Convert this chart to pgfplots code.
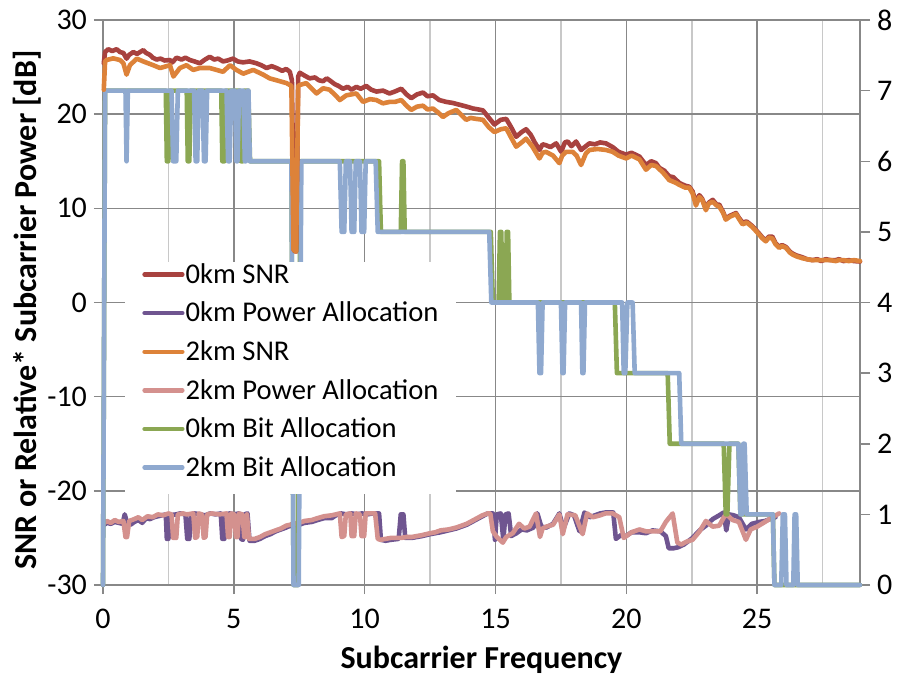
\documentclass[border=0pt]{standalone}
\usepackage{pgfplots}
\pgfplotsset{compat=1.18}
\usepackage{fontspec}
\setmainfont{Carlito}
\definecolor{cRed}{HTML}{A8423F}
\definecolor{cPurple}{HTML}{6F5590}
\definecolor{cOrange}{HTML}{DD8239}
\definecolor{cPink}{HTML}{D4918E}
\definecolor{cGreen}{HTML}{8BA753}
\definecolor{cBlue}{HTML}{8FA9CF}
\definecolor{gridDark}{HTML}{888888}
\definecolor{gridLight}{HTML}{C8C8C8}

\begin{document}
\begin{tikzpicture}
\useasboundingbox (-51.5pt,-45pt) rectangle (400.5pt,292.5pt);
\pgfplotsset{
  common/.style={
    at={(0pt,0pt)}, anchor=south west,
    width=378.5pt, height=282.5pt, scale only axis,
    xmin=0, xmax=28.93,
    /pgf/number format/assume math mode=true,
    tick label style={font=\fontsize{15}{18}\selectfont},
  },
  ln/.style={line width=2.3pt, line join=round, line cap=round},
}
% ---------- axis 1: left scale, grid, power allocation ----------
\begin{axis}[common,
  ymin=-30, ymax=30, ytick={-30,-20,...,30},
  xtick={0,5,...,25}, minor xtick={2.5,7.5,...,27.5},
  xtick pos=bottom, ytick pos=left,
  xmajorgrids, xminorgrids, ymajorgrids,
  major grid style={gridDark, line width=0.75pt},
  minor grid style={gridLight, line width=0.75pt},
  axis line style={gridDark, line width=0.75pt},
  tick align=outside,
  major tick length=4.5pt, minor tick length=0pt,
  major tick style={gridDark, line width=0.75pt},
  xticklabel style={yshift=-4pt},
  xlabel={Subcarrier Frequency},
  ylabel={SNR or Relative* Subcarrier Power [dB]},
  label style={font=\fontsize{16}{19}\selectfont\bfseries},
  xlabel style={at={(axis description cs:0.5,-0.133)}, anchor=center},
  ylabel style={at={(axis description cs:-0.1004,0.487)}, anchor=center},
]
\addplot[ln, cPurple] coordinates {
(0.05,-23.6) (0.15,-23.4) (0.3,-23.5) (0.45,-23.3) (0.6,-23.4) (0.75,-23.5) (0.83,-22.5) (0.92,-23.4)
(1.05,-23.6) (1.2,-23.3) (1.35,-23.1) (1.5,-23.4) (1.65,-22.9) (1.8,-23.0) (1.95,-22.8) (2.1,-22.7)
(2.25,-22.6) (2.40,-22.5) (2.44,-25.1) (2.50,-25.1) (2.55,-22.6) (2.8,-22.5) (2.95,-22.4) (3.15,-22.5)
(3.22,-25.1) (3.30,-25.1) (3.36,-22.5) (3.5,-22.4) (3.7,-22.5) (3.9,-22.6) (4.1,-22.4) (4.3,-22.5)
(4.5,-22.4) (4.56,-25.1) (4.64,-25.1) (4.70,-22.5) (4.85,-22.4) (5.0,-22.5) (5.2,-22.4) (5.27,-25.1)
(5.35,-25.2) (5.41,-22.5) (5.52,-22.4) (5.6,-25.3) (5.8,-25.3) (6.0,-25.1) (6.2,-24.8) (6.4,-24.6)
(6.6,-24.3) (6.8,-24.1) (7.0,-23.9) (7.15,-23.7) (7.25,-23.8) (7.5,-23.6) (7.7,-23.4) (7.98,-23.3)
(8.2,-23.1) (8.45,-22.9) (8.74,-22.9) (8.9,-22.6) (9.1,-22.4) (9.3,-22.5) (9.5,-22.4) (9.7,-22.5)
(9.9,-22.4) (10.1,-22.5) (10.3,-22.4) (10.55,-22.4) (10.62,-25.2) (10.8,-25.3) (11.0,-25.2) (11.3,-25.1)
(11.38,-22.5) (11.48,-22.5) (11.55,-25.0) (11.8,-25.0) (12.0,-24.9) (12.2,-24.8) (12.5,-24.6) (12.7,-24.5)
(12.9,-24.4) (13.2,-24.2) (13.5,-24.0) (13.7,-23.8) (13.9,-23.6) (14.1,-23.3) (14.3,-23.0) (14.5,-22.7)
(14.7,-22.4) (14.9,-22.4) (14.98,-25.2) (15.05,-22.5) (15.2,-22.4) (15.3,-25.2) (15.38,-22.5) (15.5,-22.4)
(15.6,-24.8) (15.8,-24.5) (16.0,-24.1) (16.2,-24.2) (16.45,-23.9) (16.6,-22.4) (16.75,-23.8) (16.94,-23.9)
(17.2,-23.5) (17.44,-22.4) (17.6,-24.0) (17.82,-22.4) (18.0,-22.6) (18.21,-24.3) (18.4,-22.3) (18.6,-22.8)
(18.8,-22.6) (19.0,-22.4) (19.2,-22.3) (19.5,-22.3) (19.6,-25.1) (19.8,-24.7) (19.99,-24.8) (20.2,-24.4)
(20.5,-24.4) (20.75,-24.5) (21.0,-24.2) (21.3,-24.3) (21.51,-24.8) (21.62,-26.1) (21.8,-26.1) (21.97,-26.0)
(22.2,-25.7) (22.53,-25.0) (22.8,-24.2) (23.04,-23.7) (23.3,-23.0) (23.55,-22.6) (23.72,-22.3) (23.82,-24.2)
(23.93,-22.5) (24.1,-22.6) (24.3,-22.8) (24.57,-24.1) (24.8,-23.5) (25.08,-23.3) (25.3,-23.2) (25.58,-22.9)
(25.7,-22.8)
};
\addplot[ln, cPink] coordinates {
(0.05,-23.4) (0.15,-23.2) (0.3,-23.4) (0.45,-23.1) (0.6,-23.3) (0.78,-23.2) (0.86,-24.9) (0.92,-24.9)
(1.0,-23.2) (1.2,-23.0) (1.35,-22.8) (1.5,-23.1) (1.7,-22.7) (1.9,-22.8) (2.1,-22.5) (2.3,-22.6)
(2.5,-22.4) (2.62,-22.5) (2.68,-25.0) (2.80,-25.0) (2.86,-22.5) (3.05,-22.4) (3.2,-22.5) (3.45,-22.4)
(3.52,-25.0) (3.60,-24.9) (3.66,-22.4) (3.78,-22.5) (3.85,-25.0) (3.92,-24.9) (3.98,-22.5) (4.15,-22.4)
(4.45,-22.5) (4.72,-22.4) (4.78,-24.9) (4.84,-24.9) (4.9,-22.4) (5.02,-22.5) (5.08,-24.9) (5.14,-24.9)
(5.2,-22.4) (5.33,-22.5) (5.40,-24.9) (5.45,-24.9) (5.5,-22.5) (5.58,-25.1) (5.8,-25.1) (6.0,-24.9)
(6.2,-24.6) (6.4,-24.4) (6.6,-24.2) (6.8,-24.0) (7.0,-23.7) (7.15,-23.6) (7.25,-23.5) (7.5,-23.4)
(7.7,-23.2) (7.98,-23.1) (8.2,-22.9) (8.45,-22.7) (8.74,-22.6) (9.05,-22.4) (9.12,-24.9) (9.22,-24.8)
(9.28,-22.5) (9.45,-22.4) (9.50,-24.8) (9.60,-24.8) (9.66,-22.4) (9.82,-22.5) (9.88,-24.8) (9.98,-24.8)
(10.04,-22.4) (10.4,-22.4) (10.5,-25.1) (10.6,-25.2) (10.8,-25.1) (11.0,-25.0) (11.2,-25.0) (11.4,-25.0)
(11.6,-24.9) (11.8,-24.9) (12.0,-24.8) (12.2,-24.7) (12.5,-24.5) (12.7,-24.4) (12.9,-24.2) (13.2,-24.1)
(13.5,-23.9) (13.7,-23.7) (13.9,-23.5) (14.1,-23.2) (14.3,-22.9) (14.5,-22.6) (14.7,-22.4) (14.8,-22.4)
(14.9,-24.3) (15.05,-24.9) (15.28,-25.5) (15.41,-24.9) (15.66,-24.5) (15.9,-23.5) (16.1,-24.0) (16.3,-23.8)
(16.55,-22.4) (16.7,-24.9) (16.8,-24.0) (16.94,-23.8) (17.2,-23.6) (17.44,-22.5) (17.57,-24.6) (17.75,-22.5)
(18.05,-22.6) (18.33,-24.6) (18.5,-22.4) (18.72,-22.8) (19.0,-22.6) (19.2,-22.4) (19.48,-22.4) (19.73,-22.8)
(19.9,-25.0) (20.0,-24.8) (20.2,-24.4) (20.5,-24.1) (20.75,-24.3) (21.0,-24.3) (21.3,-24.3) (21.51,-23.3)
(21.77,-22.4) (21.95,-25.5) (22.1,-25.7) (22.3,-25.4) (22.53,-25.2) (22.8,-24.3) (23.04,-23.2) (23.3,-23.8)
(23.55,-23.7) (23.75,-22.7) (23.87,-22.6) (24.06,-23.1) (24.3,-23.3) (24.57,-25.2) (24.75,-24.1) (25.0,-23.8)
(25.3,-23.3) (25.58,-22.8) (25.84,-22.4)
};
\end{axis}
% ---------- axis 2: right scale, bit allocation ----------
\begin{axis}[common,
  ymin=0, ymax=8, ytick={0,1,...,8},
  axis x line=none, axis y line*=right,
  axis line style={gridDark, line width=0.75pt, -},
  tick align=outside, major tick length=5pt,
  major tick style={gridDark, line width=0.75pt},
  clip=false,
]
\addplot[ln, cGreen] coordinates {
(0,0) (0.08,7) (2.40,7) (2.44,6) (2.50,6) (2.55,7) (3.2,7) (3.24,6) (3.30,6) (3.35,7)
(4.52,7) (4.56,6) (4.64,6) (4.69,7) (5.23,7) (5.27,6) (5.35,6) (5.40,7) (5.55,7) (5.62,6)
(7.2,6) (7.28,0) (7.45,0) (7.55,6) (10.55,6) (10.62,5) (11.38,5) (11.43,6) (11.48,6) (11.53,5)
(14.82,5) (14.9,4) (15.12,4) (15.17,5) (15.22,5) (15.27,4) (15.38,4) (15.43,5) (15.48,5) (15.53,4)
(19.56,4) (19.64,3) (21.58,3) (21.66,2) (23.72,2) (23.8,1) (23.86,1) (23.94,2) (24.28,2) (24.36,1)
(25.6,1) (25.66,0) (28.93,0)
};
\addplot[ln, cBlue] coordinates {
(0,0) (0.08,7) (0.86,7) (0.9,6) (0.95,7) (2.62,7) (2.68,6) (2.80,6) (2.86,7) (3.48,7) (3.54,6) (3.60,6) (3.66,7)
(3.8,7) (3.86,6) (3.92,6) (3.98,7) (4.72,7) (4.78,6) (4.84,6) (4.9,7) (5.04,7) (5.1,6) (5.14,6) (5.2,7)
(5.36,7) (5.42,6) (5.46,6) (5.52,7) (5.56,7) (5.61,6) (7.2,6) (7.28,0) (7.48,0) (7.58,6)
(9.05,6) (9.12,5) (9.22,5) (9.28,6) (9.44,6) (9.50,5) (9.60,5) (9.66,6) (9.82,6) (9.88,5) (9.98,5) (10.04,6)
(10.42,6) (10.5,5) (14.76,5) (14.84,4) (16.62,4) (16.68,3) (16.74,3) (16.8,4) (17.5,4) (17.56,3) (17.6,3) (17.66,4)
(18.27,4) (18.32,3) (18.36,3) (18.42,4) (19.84,4) (19.9,3) (19.96,3) (20.04,4) (20.24,4) (20.32,3)
(22.02,3) (22.1,2) (24.28,2) (24.36,1) (24.42,1) (24.47,2) (24.52,2) (24.6,1) (25.6,1) (25.66,0)
(25.92,0) (25.98,1) (26.06,1) (26.12,0) (26.38,0) (26.43,1) (26.49,1) (26.55,0) (28.93,0)
};
\end{axis}
% ---------- axis 3: SNR curves on top, legend ----------
\begin{axis}[common,
  ymin=-30, ymax=30, hide axis, clip=false,
  legend style={at={(rel axis cs:0.029,0.572)}, anchor=north west,
    draw=none, fill=white, inner xsep=8.5pt, inner ysep=0pt,
    font=\fontsize{14.3}{17}\selectfont, row sep=0pt,
    nodes={inner xsep=0.5pt, inner ysep=0pt, text height=10.5pt, text depth=8.8pt}},
  legend cell align=left,
  legend image code/.code={\draw[#1, line width=2.2pt, line cap=round] (1.1pt,3.5pt) -- (20pt,3.5pt);},
]
\addplot[ln, cRed] coordinates {
(0.03,25.4) (0.08,26.6) (0.2,26.9) (0.35,26.7) (0.52,26.9) (0.65,26.6) (0.78,26.5) (0.9,25.9)
(1.0,26.3) (1.16,26.6) (1.3,26.4) (1.54,26.8) (1.65,26.5) (1.79,26.3) (1.9,26.0) (2.05,25.8)
(2.2,25.9) (2.35,25.7) (2.56,25.75) (2.65,25.5) (2.81,26.0) (3.0,25.8) (3.15,26.0) (3.32,25.75)
(3.5,25.6) (3.7,25.4) (3.9,25.8) (4.08,26.1) (4.25,25.8) (4.4,25.9) (4.59,25.6) (4.75,25.7)
(4.97,25.9) (5.15,25.6) (5.35,25.5) (5.6,25.6) (5.87,25.4) (6.05,25.2) (6.25,24.9) (6.45,25.1)
(6.63,24.9) (6.85,24.6) (7.0,24.8) (7.14,24.5) (7.22,23.6) (7.3,5.5) (7.38,5.4) (7.46,24.0)
(7.52,24.4) (7.7,24.1) (7.90,23.8) (8.1,23.9) (8.25,23.6) (8.41,23.5) (8.55,23.8) (8.66,23.6)
(8.85,23.2) (9.0,23.0) (9.17,22.7) (9.35,22.9) (9.5,22.6) (9.68,22.9) (9.85,22.7) (10.06,23.0)
(10.25,22.6) (10.45,22.4) (10.7,22.5) (10.95,22.2) (11.15,22.4) (11.40,22.7) (11.6,22.1) (11.78,21.7)
(12.0,22.1) (12.23,22.3) (12.4,21.9) (12.61,22.0) (12.85,21.5) (13.12,21.3) (13.35,21.2) (13.63,21.0)
(13.9,20.8) (14.14,20.6) (14.35,20.5) (14.52,20.4) (14.75,19.6) (14.96,18.9) (15.2,19.4) (15.41,19.5)
(15.6,18.6) (15.79,17.6) (16.0,18.1) (16.17,18.4) (16.35,17.8) (16.5,17.0) (16.68,16.2) (16.8,16.8)
(16.93,16.7) (17.1,16.5) (17.32,16.9) (17.51,16.0) (17.65,17.0) (17.76,17.1) (17.9,16.6) (18.08,17.1)
(18.27,16.2) (18.45,16.6) (18.59,16.9) (18.8,16.8) (19.0,17.0) (19.22,16.9) (19.48,16.5) (19.7,16.0)
(19.99,15.7) (20.2,15.9) (20.5,15.5) (20.75,14.6) (20.95,15.0) (21.13,14.8) (21.26,14.3) (21.45,14.0)
(21.64,13.4) (21.8,13.3) (22.02,12.7) (22.25,12.4) (22.40,12.3) (22.53,11.8) (22.66,10.6) (22.79,11.4)
(22.9,11.0) (23.04,10.0) (23.15,10.6) (23.30,10.9) (23.45,10.4) (23.55,10.4) (23.70,9.6) (23.80,8.9)
(23.95,9.2) (24.19,9.5) (24.3,9.0) (24.44,8.5) (24.6,8.6) (24.82,8.1) (24.95,7.7) (25.08,7.3)
(25.2,6.9) (25.33,6.6) (25.45,7.0) (25.58,7.0) (25.7,6.3) (25.84,5.9) (25.95,6.1) (26.10,5.9)
(26.25,5.4) (26.35,5.2) (26.5,5.0) (26.73,4.8) (26.9,4.6) (27.11,4.5) (27.3,4.6) (27.45,4.4)
(27.62,4.6) (27.8,4.5) (28.0,4.5) (28.13,4.6) (28.3,4.4) (28.5,4.5) (28.7,4.4) (28.93,4.35)
};
\addlegendentry{0km SNR}
\addlegendimage{cPurple}
\addlegendentry{0km Power Allocation}
\addplot[ln, cOrange] coordinates {
(0.03,22.6) (0.08,25.6) (0.14,25.75) (0.39,25.93) (0.65,25.75) (0.78,25.4) (0.90,24.2) (1.03,25.2)
(1.29,25.9) (1.54,25.6) (1.92,25.2) (2.18,24.9) (2.56,25.2) (2.69,24.0) (2.94,24.9) (3.19,25.2)
(3.45,24.7) (3.70,24.9) (4.08,24.9) (4.34,24.7) (4.59,24.5) (4.85,25.2) (5.10,24.7) (5.36,24.3)
(5.74,24.7) (6.12,24.2) (6.37,23.8) (6.63,23.6) (7.01,23.3) (7.2,23.0) (7.28,5.6) (7.38,5.4)
(7.46,23.0) (7.52,23.1) (7.77,23.3) (8.16,22.2) (8.41,22.75) (8.66,22.6) (8.92,21.9) (9.05,21.5)
(9.3,22.0) (9.68,22.2) (9.94,21.3) (10.2,21.6) (10.45,21.5) (10.7,21.15) (10.95,21.3) (11.15,21.3)
(11.40,21.5) (11.60,20.9) (11.78,20.45) (12.0,20.8) (12.23,20.9) (12.40,20.5) (12.61,20.6) (12.8,20.2)
(12.99,19.7) (13.2,20.1) (13.5,20.45) (13.7,19.9) (13.88,19.4) (14.05,19.6) (14.26,19.5) (14.52,19.4)
(14.75,18.6) (14.96,18.1) (15.2,18.4) (15.41,18.5) (15.6,17.5) (15.79,16.55) (16.0,17.0) (16.17,17.4)
(16.4,16.6) (16.68,15.3) (16.8,15.9) (16.93,16.0) (17.2,15.6) (17.44,14.8) (17.55,15.6) (17.7,16.0)
(17.95,16.0) (18.1,15.6) (18.27,14.6) (18.45,15.8) (18.59,16.2) (18.9,16.3) (19.22,16.2) (19.48,16.0)
(19.7,15.6) (19.99,15.3) (20.2,15.6) (20.5,15.2) (20.75,14.1) (20.95,14.6) (21.13,14.5) (21.4,13.8)
(21.64,13.0) (21.9,12.7) (22.02,12.5) (22.25,12.2) (22.40,12.2) (22.53,11.6) (22.66,10.3) (22.79,11.2)
(22.9,10.9) (23.04,9.8) (23.15,10.5) (23.30,10.7) (23.45,10.3) (23.55,10.2) (23.70,9.5) (23.80,8.8)
(23.95,9.1) (24.19,9.4) (24.3,8.9) (24.44,8.3) (24.6,8.5) (24.82,8.0) (24.95,7.6) (25.08,7.2)
(25.2,6.8) (25.33,6.5) (25.45,6.9) (25.58,6.8) (25.7,6.2) (25.84,5.8) (25.95,6.0) (26.10,5.8)
(26.25,5.3) (26.35,5.1) (26.5,4.9) (26.73,4.7) (26.9,4.6) (27.11,4.5) (27.3,4.5) (27.45,4.5)
(27.62,4.5) (27.8,4.5) (28.0,4.4) (28.13,4.5) (28.3,4.5) (28.5,4.4) (28.7,4.5) (28.93,4.4)
};
\addlegendentry{2km SNR}
\addlegendimage{cPink}
\addlegendentry{2km Power Allocation}
\addlegendimage{cGreen}
\addlegendentry{0km Bit Allocation}
\addlegendimage{cBlue}
\addlegendentry{2km Bit Allocation}
\end{axis}
\end{tikzpicture}
\end{document}
